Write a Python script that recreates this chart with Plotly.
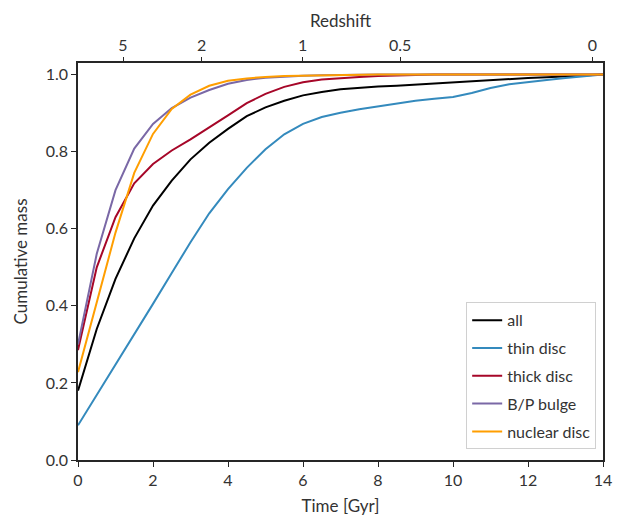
import plotly.graph_objects as go

time = [0, 0.5, 1, 1.5, 2, 2.5, 3, 3.5, 4, 4.5, 5, 5.5, 6, 6.5, 7, 7.5, 8, 8.5, 9,
        9.5, 10, 10.5, 11, 11.5, 12, 12.5, 13, 13.5, 14]

all_mass = [0.18, 0.34, 0.47, 0.575, 0.66, 0.725, 0.78, 0.823, 0.859, 0.892, 0.915, 0.932,
            0.946, 0.955, 0.962, 0.966, 0.969, 0.971, 0.974, 0.977, 0.98, 0.983, 0.986,
            0.989, 0.991, 0.993, 0.995, 0.998, 1.0]
thin_disc = [0.09, 0.168, 0.246, 0.325, 0.405, 0.485, 0.565, 0.64, 0.703, 0.758, 0.806,
             0.845, 0.872, 0.89, 0.901, 0.91, 0.918, 0.926, 0.932, 0.937, 0.942, 0.952,
             0.965, 0.975, 0.981, 0.986, 0.991, 0.996, 1.0]
thick_disc = [0.285, 0.5, 0.63, 0.718, 0.768, 0.803, 0.832, 0.862, 0.894, 0.926, 0.95, 0.968,
              0.98, 0.987, 0.991, 0.994, 0.996, 0.998, 0.999, 1.0, 1.0, 1.0, 1.0, 1.0, 1.0,
              1.0, 1.0, 1.0, 1.0]
bp_bulge = [0.30, 0.535, 0.70, 0.808, 0.872, 0.913, 0.94, 0.96, 0.976, 0.986, 0.992, 0.995,
            0.997, 0.998, 0.999, 1.0, 1.0, 1.0, 1.0, 1.0, 1.0, 1.0, 1.0, 1.0, 1.0, 1.0,
            1.0, 1.0, 1.0]
nuclear_disc = [0.228, 0.41, 0.59, 0.745, 0.846, 0.911, 0.948, 0.971, 0.984, 0.99, 0.994,
                0.996, 0.997, 0.998, 0.999, 1.0, 1.0, 1.0, 1.0, 1.0, 1.0, 1.0, 1.0, 1.0,
                1.0, 1.0, 1.0, 1.0, 1.0]

redshift_labels = ["5", "2", "1", "0.5", "0"]
redshift_times = [1.2, 3.3, 5.99, 8.59, 13.72]

series = [
    ("all", all_mass, "#000000"),
    ("thin disc", thin_disc, "#348ABD"),
    ("thick disc", thick_disc, "#A60628"),
    ("B/P bulge", bp_bulge, "#7A68A6"),
    ("nuclear disc", nuclear_disc, "#FF9E00"),
]

FONT = "Lato, 'Open Sans', sans-serif"
TXT = "#333333"
AX = "#262626"

fig = go.Figure()
for i, (name, vals, col) in enumerate(series):
    fig.add_trace(go.Scatter(x=time, y=vals, mode="lines", name=name,
                             legendgroup=f"g{i}",
                             line=dict(color=col, width=2)))

# invisible trace for top axis
fig.add_trace(go.Scatter(x=[0, 14], y=[0, 0], xaxis="x2", mode="lines",
                         line=dict(width=0), showlegend=False, hoverinfo="skip"))

fig.update_layout(
    width=624, height=519,
    margin=dict(l=78, r=21, t=63, b=59),
    paper_bgcolor="white", plot_bgcolor="white",
    font=dict(family=FONT, size=16, color=TXT),
    showlegend=True,
    legend=dict(x=0.987, y=0.027, xanchor="right", yanchor="bottom",
                bgcolor="rgba(255,255,255,0.8)", bordercolor="#d0d0d0", borderwidth=1,
                font=dict(size=16, color=TXT), traceorder="grouped", tracegroupgap=4),
    xaxis=dict(range=[0, 14], tickvals=[0, 2, 4, 6, 8, 10, 12, 14],
               ticks="outside", ticklen=5, tickcolor=AX, tickwidth=1,
               showline=True, linecolor=AX, linewidth=1.5, mirror=True,
               showgrid=False, zeroline=False, automargin=False,
               title=dict(text="Time [Gyr]", standoff=12, font=dict(size=17))),
    xaxis2=dict(range=[0, 14], overlaying="x", side="top",
                tickvals=redshift_times, ticktext=redshift_labels,
                ticks="outside", ticklen=5, tickcolor=AX, tickwidth=1,
                showline=False, showgrid=False, zeroline=False, automargin=False,
                title=dict(text="Redshift", standoff=2, font=dict(size=17))),
    yaxis=dict(range=[0, 1.03], tickvals=[0, 0.2, 0.4, 0.6, 0.8, 1.0],
               tickformat=".1f",
               ticks="outside", ticklen=5, tickcolor=AX, tickwidth=1,
               showline=True, linecolor=AX, linewidth=1.5, mirror=True,
               showgrid=False, zeroline=False, automargin=False,
               title=dict(text="Cumulative mass", standoff=14, font=dict(size=17))),
)

fig.write_html("out.html")
